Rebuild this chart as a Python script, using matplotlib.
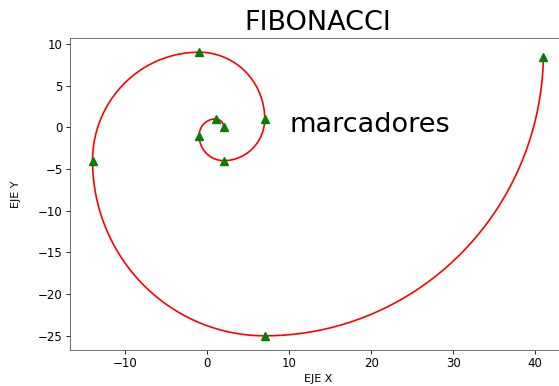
import numpy as np
import matplotlib
matplotlib.use("Agg")
import matplotlib.pyplot as plt

# Spiral quarter-arcs: centres, radii and starting angle (degrees)
centre_x = [1, 1, 2, 2, -1, -1, 7, 7]
centre_y = [0, -1, -1, 1, 1, -4, -4, 9]
radii = [1, 2, 3, 5, 8, 13, 21, 34]
start_deg = [0, 90, 180, 270, 0, 90, 180, 270]

# Marker positions
marker_x = [2, 1, -1, 2, 7, -1, -14, 7, 41]
marker_y = [0, 1, -1, -4, 1, 9, -4, -25, 8.4]

title = "FIBONACCI"
xlabel = "EJE X"
ylabel = "EJE Y"
annot = "marcadores"

fig = plt.figure(figsize=(5.59, 3.86), dpi=100)
ax = fig.add_axes([70/559, 36/386, 496/559, 312/386])

xs, ys = [], []
for cx, cy, r, a0 in zip(centre_x, centre_y, radii, start_deg):
    t = np.radians(np.arange(a0, a0 + 90))
    xs.append(cx + r*np.cos(t))
    ys.append(cy + r*np.sin(t))
xs = np.concatenate(xs)
ys = np.concatenate(ys)

ax.plot(xs, ys, color="red", lw=1.2)
ax.plot(marker_x, marker_y, "^", color="green", markersize=5.5, ls="none")

ax.text(10, -0.6, annot, fontsize=19.5)
ax.set_title(title, fontsize=19.5, pad=6)
ax.set_xlabel(xlabel, fontsize=8, labelpad=3)
ax.set_ylabel(ylabel, fontsize=8)
ax.yaxis.set_label_coords(-0.098, 0.5)
ax.tick_params(labelsize=8.5, length=2.7, width=0.6, pad=2.5)
for s in ax.spines.values():
    s.set_linewidth(0.6)
    s.set_color("#555555")
ax.set_yticks([10, 5, 0, -5, -10, -15, -20, -25])

fig.savefig("out.png", dpi=100)
